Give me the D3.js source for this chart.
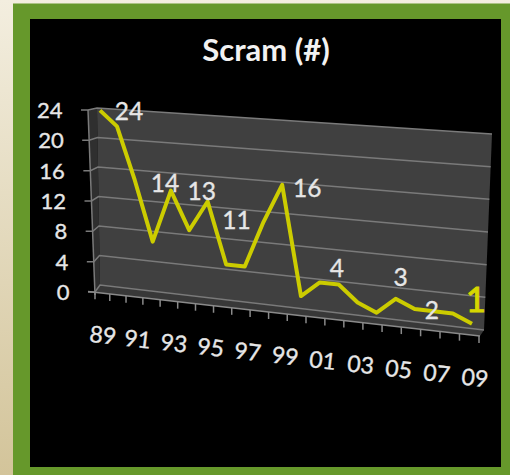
<!DOCTYPE html>
<html>
<head>
<meta charset="utf-8">
<title>Scram (#)</title>
<script src="https://cdn.jsdelivr.net/npm/d3@7"></script>
<style>
  html, body { margin: 0; padding: 0; background: #000; }
  svg { display: block; }
  text { font-family: Lato, "Open Sans", sans-serif; fill: #e6e6e6; stroke: #e6e6e6; stroke-width: 0.35; }
</style>
</head>
<body>
<svg id="chart" width="510" height="475"></svg>
<script>
// Annual scram counts, 1989-2009
const years = ["89","90","91","92","93","94","95","96","97","98","99",
               "00","01","02","03","04","05","06","07","08","09"];
const scrams = [24,22,15,7,14,9,13,5,5,11,16,2,4,4,2,1,3,2,2,2,1];
const yTicks = [0,4,8,12,16,20,24];
const labelledYears = ["89","93","95","98","99","01","05","07","09"];
const yearLabels = ["89","91","93","95","97","99","01","03","05","07","09"];
const chartTitle = "Scram (#)";

const svg = d3.select("#chart");

// Slide background and frame
const defs = svg.append("defs");
const beige = defs.append("linearGradient").attr("id", "beige")
  .attr("x1", 0).attr("y1", 0).attr("x2", 0).attr("y2", 1);
beige.append("stop").attr("offset", 0).attr("stop-color", "#f3eedf");
beige.append("stop").attr("offset", 1).attr("stop-color", "#d3c49a");
svg.append("rect").attr("width", 510).attr("height", 475).attr("fill", "url(#beige)");
svg.append("rect").attr("x", 13).attr("y", 3.5).attr("width", 497).attr("height", 471.5).attr("fill", "#66982b");
svg.append("rect").attr("x", 30).attr("y", 19).attr("width", 471).attr("height", 448).attr("fill", "#000");

// The tilted 3-D look comes from separate value scales at each end of a plane
const lerp = (a, b, t) => a + (b - a) * t;

const backLeft = d3.scaleLinear().domain([0, 24]).range([285, 108]);
const backRight = d3.scaleLinear().domain([0, 24]).range([330, 134]);
const wallXLeft = d3.scaleLinear().domain([0, 24]).range([100, 97]);
const wallXRight = d3.scaleLinear().domain([0, 24]).range([484, 492]);
const sideX = d3.scaleLinear().domain([0, 24]).range([95, 88]);
const tickX = d3.scaleLinear().domain([0, 24]).range([88, 81]);
const tickY = d3.scaleLinear().domain([0, 24]).range([292, 110]);

// Series plane sits slightly in front of the back wall
const seriesX = d3.scalePow().exponent(1.03).domain([0, years.length - 1]).range([100, 472]);
const seriesLeft = d3.scaleLinear().domain([0, 24]).range([288, 110.4]);
const seriesRight = d3.scaleLinear().domain([0, 24]).range([332, 135]);
const seriesU = d3.scaleLinear().domain(seriesX.range()).range([0, 1]);
const pointX = i => seriesX(i);
const pointY = (i, v) => lerp(seriesLeft(v), seriesRight(v), seriesU(seriesX(i)));

// Front floor edge carries the category ticks
const floorX = d3.scalePow().exponent(1.07).domain([0, years.length]).range([95, 479]);
const floorY = d3.scaleLinear().domain([88, 480]).range([291.5, 336]);

// Side wall and back wall
const wallTop = 24, wallBottom = 0;
svg.append("polygon")
  .attr("fill", "#2f2f2f")
  .attr("points", [[sideX(wallTop), tickY(wallTop)], [wallXLeft(wallTop), backLeft(wallTop)],
                   [wallXLeft(wallBottom), backLeft(wallBottom)], [sideX(wallBottom), tickY(wallBottom)]].join(" "));
svg.append("polygon")
  .attr("fill", "#404040")
  .attr("points", [[wallXLeft(wallTop), backLeft(wallTop)], [wallXRight(wallTop), backRight(wallTop)],
                   [wallXRight(wallBottom), backRight(wallBottom)], [wallXLeft(wallBottom), backLeft(wallBottom)]].join(" "));
svg.append("polygon")
  .attr("fill", "#383838")
  .attr("points", [[wallXLeft(0), backLeft(0)], [wallXRight(0), backRight(0)],
                   [480, floorY(480)], [sideX(0), floorY(sideX(0))]].join(" "));

// Gridlines: tick, run across the side wall, then across the back wall
const grid = svg.append("g").attr("fill", "none").attr("stroke", "#7a7a7a").attr("stroke-width", 1.5);
grid.selectAll("path").data(yTicks).join("path")
  .attr("d", d => d3.line()([
    [tickX(d), tickY(d)], [sideX(d), tickY(d)],
    [wallXLeft(d), backLeft(d)], [wallXRight(d), backRight(d)]
  ]));

// Value axis
svg.append("line").attr("stroke", "#7a7a7a").attr("stroke-width", 1.5)
  .attr("x1", sideX(24)).attr("y1", tickY(24)).attr("x2", sideX(0)).attr("y2", tickY(0) + 3);
svg.append("g").selectAll("text").data(yTicks).join("text")
  .attr("x", d => tickX(d) - 18.5)
  .attr("y", d => tickY(d))
  .attr("dy", "0.36em")
  .attr("text-anchor", "end")
  .attr("font-size", 22)
  .text(d => d);

// Category axis
svg.append("line").attr("stroke", "#8a8a8a").attr("stroke-width", 1.5)
  .attr("x1", 88).attr("y1", floorY(88)).attr("x2", 480).attr("y2", floorY(480));
svg.append("g").attr("stroke", "#8a8a8a").attr("stroke-width", 1.5)
  .selectAll("line").data(d3.range(years.length + 1)).join("line")
  .attr("x1", d => floorX(d)).attr("x2", d => floorX(d))
  .attr("y1", d => floorY(floorX(d)))
  .attr("y2", d => floorY(floorX(d)) + 7);

const labelLineY = d3.scaleLinear().domain([103, 469]).range([335, 377]);
svg.append("g").selectAll("text").data(yearLabels).join("text")
  .attr("text-anchor", "middle")
  .attr("font-size", 23)
  .attr("transform", d => {
    const x = pointX(years.indexOf(d)) + 3;
    return `translate(${x},${labelLineY(x)}) rotate(6.5)`;
  })
  .attr("dy", "0.36em")
  .text(d => d);

// Series line
const series = d3.line().x((d, i) => pointX(i)).y((d, i) => pointY(i, d));
svg.append("path").datum(scrams)
  .attr("d", series)
  .attr("fill", "none")
  .attr("stroke", "#cccc00")
  .attr("stroke-width", 4)
  .attr("stroke-linejoin", "round");

// Data labels, each placed beside its point
const labelOffset = { "89": [29, 1], "93": [-6, -7], "95": [-6, -10], "98": [-27, -2], "99": [25, 3],
                      "01": [17, -14], "05": [5, -22], "07": [-2, -1], "09": [4, -24] };
svg.append("g").selectAll("text").data(labelledYears).join("text")
  .attr("x", d => pointX(years.indexOf(d)) + labelOffset[d][0])
  .attr("y", d => pointY(years.indexOf(d), scrams[years.indexOf(d)]) + labelOffset[d][1])
  .attr("dy", "0.36em")
  .attr("text-anchor", "middle")
  .attr("font-size", d => d === "09" ? 35 : 24.5)
  .style("fill", d => d === "09" ? "#d6d600" : null)
  .style("stroke", d => d === "09" ? "#d6d600" : null)
  .style("stroke-width", d => d === "09" ? 1 : null)
  .text(d => scrams[years.indexOf(d)]);

// Title
svg.append("text")
  .attr("x", 266).attr("y", 50)
  .attr("dy", "0.36em")
  .attr("text-anchor", "middle")
  .attr("font-size", 31)
  .attr("font-weight", 700)
  .style("fill", "#f2f2f2")
  .style("stroke", "none")
  .text(chartTitle);
</script>
</body>
</html>
